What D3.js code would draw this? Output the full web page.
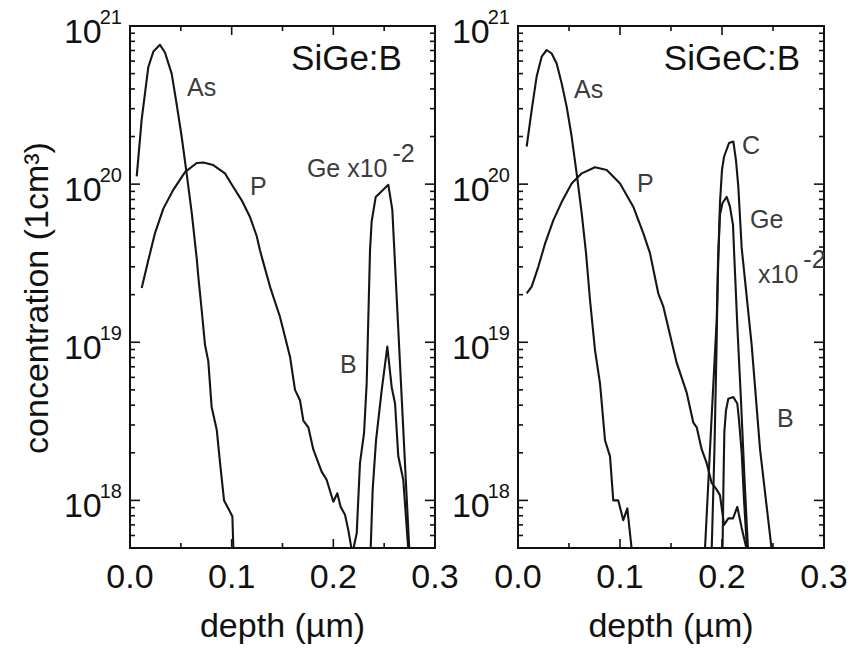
<!DOCTYPE html>
<html lang="en">
<head>
  <meta charset="UTF-8">
  <title>SIMS profiles</title>
  <script src="https://cdnjs.cloudflare.com/ajax/libs/d3/7.8.5/d3.min.js"></script>
  <style>
    body { margin: 0; background: #fff; }
    svg { font-family: "Liberation Sans", Arial, Helvetica, sans-serif; }
    .frame { fill: none; stroke: #111; stroke-width: 2px; }
    .tick { stroke: #111; stroke-width: 1.6px; }
    .line { fill: none; stroke: #151515; stroke-width: 2.1px; stroke-linejoin: round; }
    .tl { fill: #111; font-size: 34px; }
    .at { fill: #111; font-size: 34px; }
    .sup { font-size: 20px; }
    .ctl { fill: #3c3c3c; font-size: 25px; }
    .ttl { fill: #111; font-size: 35px; }
  </style>
</head>
<body>
  <div id="graph"></div>
  <script>
    // depth (um), concentration (cm^-3)
    // left panel: SiGe:B
    var sigeAs = [[0.0066,1.12e20],[0.0115,2.57e20],[0.018,5.5e20],[0.023,6.9e20],[0.0295,7.6e20],
      [0.0344,6.8e20],[0.041,5.0e20],[0.0459,3.2e20],[0.0508,2.0e20],[0.0557,1.17e20],[0.0607,6.6e19],
      [0.0656,3.4e19],[0.0672,2.6e19],[0.0705,1.6e19],[0.0738,9.6e18],[0.077,7.6e18],[0.0803,3.9e18],
      [0.0853,2.8e18],[0.0886,1.72e18],[0.0925,1.0e18],[0.0967,8.9e17],[0.1007,7.9e17],[0.1017,4.9e17],
      [0.1019,3.8e17]];
    var sigeP = [[0.0115,2.2e19],[0.018,3.3e19],[0.0246,4.9e19],[0.0328,7.0e19],[0.0426,9.2e19],
      [0.0541,1.19e20],[0.0656,1.36e20],[0.0721,1.37e20],[0.0819,1.32e20],[0.0934,1.17e20],[0.1016,9.6e19],
      [0.1099,7.9e19],[0.118,6.2e19],[0.1246,4.7e19],[0.1279,3.8e19],[0.1311,3.2e19],[0.1377,2.25e19],
      [0.1475,1.45e19],[0.1574,8.1e18],[0.1623,5.0e18],[0.1672,4.3e18],[0.1705,3.2e18],[0.1754,2.9e18],
      [0.1803,2.1e18],[0.1885,1.52e18],[0.1934,1.35e18],[0.2,9.8e17],[0.2039,1.11e18],[0.2072,9.1e17],
      [0.2115,8.1e17],[0.2147,6.5e17],[0.218,4.9e17],[0.2193,3.8e17]];
    var sigeGe = [[0.2189,3.8e17],[0.2196,4.9e17],[0.223,6.2e17],[0.2262,1.72e18],[0.2302,2.66e18],
      [0.2328,5.5e18],[0.2361,3.84e19],[0.2377,5.8e19],[0.2417,8.3e19],[0.2541,9.9e19],[0.258,6.9e19],
      [0.2747,4.9e17],[0.2754,3.8e17]];
    var sigeB = [[0.2366,3.8e17],[0.2367,4.9e17],[0.2387,1.17e18],[0.242,2.4e18],[0.2476,5.0e18],
      [0.2531,9.4e18],[0.2574,5.2e18],[0.2607,4.1e18],[0.2639,1.9e18],[0.2688,1.35e18],[0.2737,4.9e17],
      [0.2741,3.8e17]];

    // right panel: SiGeC:B
    var sigecAs = [[0.0085,1.73e20],[0.0134,2.94e20],[0.0183,4.8e20],[0.0232,6.4e20],[0.0281,7.05e20],
      [0.033,6.7e20],[0.0379,5.8e20],[0.0428,4.35e20],[0.0477,3.09e20],[0.0526,2.0e20],[0.0575,1.17e20],
      [0.0625,6.5e19],[0.0667,3.66e19],[0.0706,1.85e19],[0.0755,8.9e18],[0.0804,5.5e18],[0.0853,2.4e18],
      [0.0902,1.9e18],[0.0934,1.0e18],[0.0983,1.0e18],[0.1032,7.5e17],[0.1072,8.9e17],[0.1091,6.8e17],
      [0.1115,4.9e17],[0.1123,3.8e17]];
    var sigecP = [[0.0085,2.04e19],[0.0134,2.25e19],[0.0199,3.0e19],[0.0265,4.2e19],[0.0346,5.9e19],
      [0.0428,7.7e19],[0.0526,1.01e20],[0.0625,1.17e20],[0.0755,1.28e20],[0.087,1.23e20],[0.1,1.01e20],
      [0.113,7.2e19],[0.1228,4.9e19],[0.1294,3.66e19],[0.1375,2.04e19],[0.1425,1.68e19],[0.1556,7.4e18],
      [0.1654,4.8e18],[0.1719,3.1e18],[0.1752,2.9e18],[0.1801,2.1e18],[0.185,1.72e18],[0.1899,1.29e18],
      [0.1948,1.17e18],[0.198,1.08e18],[0.202,7.0e17],[0.2062,7.7e17],[0.2108,7.7e17],[0.215,9.1e17],
      [0.2193,6.7e17],[0.2242,4.9e17],[0.2255,4.0e17]];
    var sigecC = [[0.1828,3.8e17],[0.1833,4.9e17],[0.1892,2.8e18],[0.1948,1.39e19],[0.1966,3.8e19],
      [0.198,7.6e19],[0.2,1.23e20],[0.202,1.49e20],[0.2069,1.82e20],[0.2111,1.86e20],[0.2137,1.42e20],
      [0.216,9.6e19],[0.2193,3.95e19],[0.2291,9.6e18],[0.2373,2.1e18],[0.2431,1.0e18],[0.2487,4.9e17],
      [0.25,3.8e17]];
    var sigecGe = [[0.1895,3.8e17],[0.1899,4.9e17],[0.1926,2.1e18],[0.1946,9.0e18],[0.1961,3.3e19],
      [0.198,6.4e19],[0.2005,7.6e19],[0.2046,8.3e19],[0.2078,7.2e19],[0.2108,5.5e19],[0.2118,3.8e19],
      [0.2152,1.2e19],[0.2186,4.3e18],[0.2221,1.35e18],[0.2255,4.9e17],[0.2262,3.8e17]];
    var sigecB = [[0.2003,3.8e17],[0.2005,4.9e17],[0.2015,1.35e18],[0.2023,2.7e18],[0.2039,3.7e18],
      [0.2062,4.4e18],[0.2111,4.5e18],[0.215,4.1e18],[0.2167,3.2e18],[0.2193,2.0e18],[0.2216,1.0e18],
      [0.2245,4.9e17],[0.2255,3.8e17]];

    // curve labels: [text, depth, conc, superscript]
    var sigeLabels = [["As",0.0561,3.6e20,""],["P",0.118,8.5e19,""],["Ge x10",0.174,1.11e20,"-2"],["B",0.2066,6.4e18,""]];
    var sigecLabels = [["As",0.0549,3.5e20,""],["P",0.1167,8.9e19,""],["C",0.2196,1.55e20,""],["Ge",0.2275,5.3e19,""],
      ["x10",0.2353,2.37e19,"-2"],["B",0.2539,2.9e18,""]];

    var xMajor = [0, 0.1, 0.2, 0.3];
    var xMinor = [0.05, 0.15, 0.25];
    var yDecades = [18, 19, 20, 21];

    var W = 854, H = 648;
    var plotTop = 26, plotBottom = 548;

    var svg = d3.select("#graph").append("svg")
        .attr("width", W)
        .attr("height", H);

    var y = d3.scaleLog().domain([5e17, 1e21]).range([plotBottom, plotTop]);

    var line = function(x) {
      return d3.line()
        .x(function(d) { return x(d[0]); })
        .y(function(d) { return y(d[1]); });
    };

    function drawPanel(id, left, right, series, labels, title) {
      var x = d3.scaleLinear().domain([0, 0.3]).range([left, right]);
      var g = svg.append("g");

      g.append("clipPath").attr("id", id)
        .append("rect")
          .attr("x", left).attr("y", plotTop)
          .attr("width", right - left).attr("height", plotBottom - plotTop);

      // curves
      var lg = g.append("g").attr("clip-path", "url(#" + id + ")");
      series.forEach(function(s) {
        lg.append("path").datum(s).attr("class", "line").attr("d", line(x));
      });

      // x ticks, inward on top and bottom
      xMajor.concat(xMinor).forEach(function(v) {
        var len = xMajor.indexOf(v) >= 0 ? 9 : 5;
        g.append("line").attr("class", "tick")
          .attr("x1", x(v)).attr("x2", x(v)).attr("y1", plotBottom).attr("y2", plotBottom - len);
        g.append("line").attr("class", "tick")
          .attr("x1", x(v)).attr("x2", x(v)).attr("y1", plotTop).attr("y2", plotTop + len);
      });
      xMajor.forEach(function(v) {
        g.append("text").attr("class", "tl")
          .attr("x", x(v)).attr("y", 588)
          .attr("text-anchor", "middle")
          .text(d3.format(".1f")(v));
      });

      // y ticks, inward on left and right
      var yt = [];
      [17, 18, 19, 20].forEach(function(e) {
        for (var m = 1; m < 10; m++) {
          var v = m * Math.pow(10, e);
          if (v >= 5e17) yt.push([v, m === 1]);
        }
      });
      yt.push([1e21, true]);
      yt.forEach(function(t) {
        var len = t[1] ? 10 : 5;
        g.append("line").attr("class", "tick")
          .attr("x1", left).attr("x2", left + len).attr("y1", y(t[0])).attr("y2", y(t[0]));
        g.append("line").attr("class", "tick")
          .attr("x1", right).attr("x2", right - len).attr("y1", y(t[0])).attr("y2", y(t[0]));
      });
      yDecades.forEach(function(e) {
        var t = g.append("text").attr("class", "tl")
          .attr("x", left - 8).attr("y", y(Math.pow(10, e)) + 17)
          .attr("text-anchor", "end");
        t.append("tspan").text("10");
        t.append("tspan").attr("class", "sup").attr("dx", -2).attr("dy", -19).text(e);
      });

      g.append("rect").attr("class", "frame")
        .attr("x", left).attr("y", plotTop)
        .attr("width", right - left).attr("height", plotBottom - plotTop);

      // curve labels
      labels.forEach(function(l) {
        var t = g.append("text").attr("class", "ctl")
          .attr("x", x(l[1])).attr("y", y(l[2]));
        t.append("tspan").text(l[0]);
        if (l[3]) t.append("tspan").attr("dx", 5).attr("dy", -15).text(l[3]);
      });

      g.append("text").attr("class", "ttl")
        .attr("x", x(title[1])).attr("y", y(title[2]))
        .attr("text-anchor", "end")
        .text(title[0]);

      g.append("text").attr("class", "at")
        .attr("x", (left + right) / 2).attr("y", 637)
        .attr("text-anchor", "middle")
        .text("depth (\u00b5m)");
    }

    drawPanel("clipL", 130, 435, [sigeAs, sigeP, sigeGe, sigeB], sigeLabels, ["SiGe:B", 0.2675, 5.3e20]);
    drawPanel("clipR", 518, 824, [sigecAs, sigecP, sigecC, sigecGe, sigecB], sigecLabels, ["SiGeC:B", 0.2765, 5.3e20]);

    svg.append("text").attr("class", "at")
      .attr("transform", "translate(48,298) rotate(-90)")
      .attr("text-anchor", "middle")
      .text("concentration (1cm\u00b3)");
  </script>
</body>
</html>
